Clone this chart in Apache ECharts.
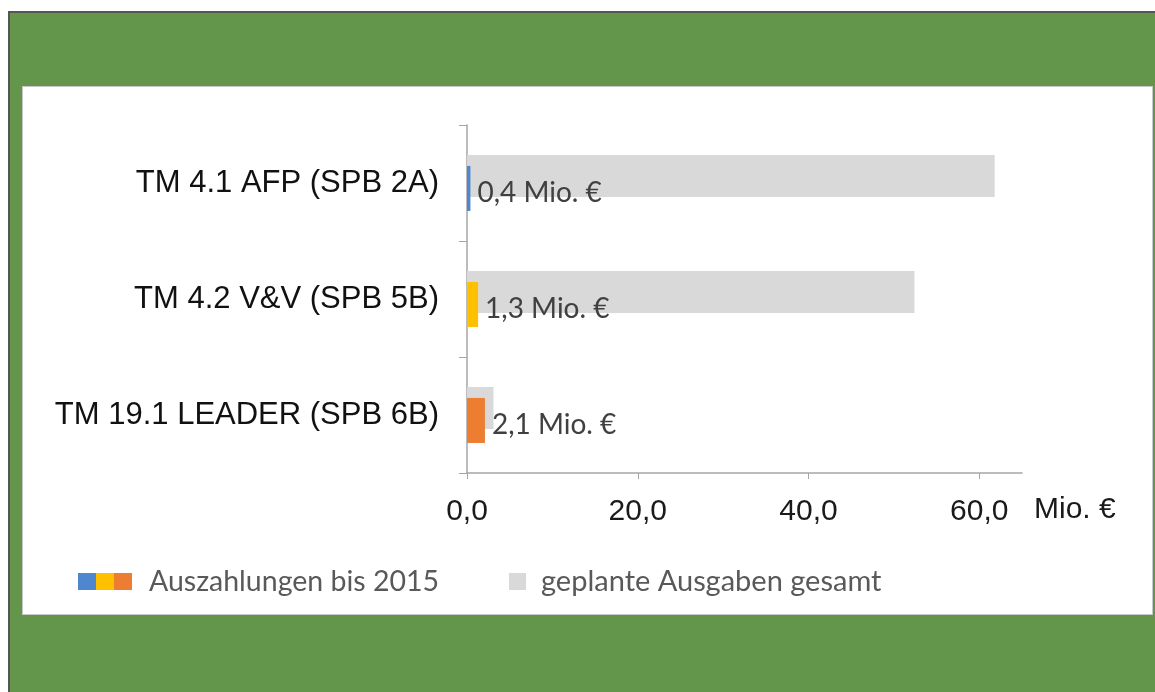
<!DOCTYPE html>
<html>
<head>
<meta charset="utf-8">
<script src="https://cdn.jsdelivr.net/npm/echarts@6/dist/echarts.min.js"></script>
<style>
  html, body { margin: 0; padding: 0; background: #ffffff; }
  #frame {
    position: absolute; left: 8px; top: 11px; width: 1147px; height: 681px;
    background: #63964a; border-top: 2px solid #555; border-left: 2px solid #555;
    box-sizing: border-box;
  }
  #chart {
    position: absolute; left: 22px; top: 86px; width: 1131px; height: 529px;
    background: #ffffff; border: 1px solid #c8c8c8; box-sizing: border-box;
  }
</style>
</head>
<body>
<div id="frame"></div>
<div id="chart"></div>
<script>
// data
const categories = ["TM 4.1 AFP (SPB 2A)", "TM 4.2 V&V (SPB 5B)", "TM 19.1 LEADER (SPB 6B)"];
const paidValues = [0.4, 1.3, 2.1];
const plannedValues = [61.8, 52.4, 3.1];
const paidColors = ["#4f86d0", "#ffc000", "#ed7d31"];
const xTicks = [0, 20, 40, 60];
const paidName = "Auszahlungen bis 2015";
const plannedName = "geplante Ausgaben gesamt";

const legendIcon = "image://data:image/svg+xml;utf8," + encodeURIComponent(
  '<svg xmlns="http://www.w3.org/2000/svg" width="54" height="17">' +
  '<rect x="0" y="0" width="18" height="17" fill="' + paidColors[0] + '"/>' +
  '<rect x="18" y="0" width="18" height="17" fill="' + paidColors[1] + '"/>' +
  '<rect x="36" y="0" width="18" height="17" fill="' + paidColors[2] + '"/>' +
  '</svg>'
);

const chart = echarts.init(document.getElementById("chart"), null, { renderer: "canvas" });

const fmt = (v) => v.toFixed(1).replace(".", ",");

chart.setOption({
  animation: false,
  grid: { left: 444, top: 38, width: 555, height: 348 },
  xAxis: {
    type: "value",
    min: 0,
    max: 65,
    interval: 20,
    name: "Mio. €",
    nameLocation: "end",
    nameGap: 12,
    nameTextStyle: {
      fontFamily: "Liberation Sans", fontSize: 30, color: "#1a1a1a",
      verticalAlign: "top", padding: [22, 0, 0, 0]
    },
    axisLine: { show: true, lineStyle: { color: "#a6a6a6", width: 1.5 } },
    axisTick: { show: true, length: 6, lineStyle: { color: "#a6a6a6" }, customValues: xTicks },
    axisLabel: {
      customValues: xTicks,
      formatter: fmt,
      fontFamily: "Liberation Sans", fontSize: 30, color: "#1a1a1a", margin: 24
    },
    splitLine: { show: false }
  },
  yAxis: {
    type: "category",
    inverse: true,
    data: categories,
    axisLine: { show: true, lineStyle: { color: "#a6a6a6", width: 1.5 } },
    axisTick: { show: true, length: 8, lineStyle: { color: "#a6a6a6" } },
    axisLabel: { fontFamily: "Liberation Sans", fontSize: 31, color: "#111", margin: 28 }
  },
  legend: [
    {
      data: [{ name: paidName, icon: legendIcon }],
      left: 50, top: 475,
      itemWidth: 54, itemHeight: 17,
      textStyle: { fontFamily: "Lato", fontSize: 28.5, color: "#595959", padding: [0, 0, 0, 12] },
      selectedMode: false
    },
    {
      data: [{ name: plannedName, icon: "rect" }],
      left: 481, top: 475,
      itemWidth: 17, itemHeight: 17,
      textStyle: { fontFamily: "Lato", fontSize: 29, color: "#595959", padding: [0, 0, 0, 10] },
      selectedMode: false
    }
  ],
  series: [
    {
      name: plannedName,
      type: "bar",
      data: plannedValues,
      barWidth: 42,
      barGap: "-74%",
      itemStyle: { color: "#d9d9d9" }
    },
    {
      name: paidName,
      type: "bar",
      data: paidValues.map((v, i) => ({ value: v, itemStyle: { color: paidColors[i] } })),
      barWidth: 45,
      barMinWidth: 5,
      itemStyle: { color: paidColors[0] },
      label: {
        show: true,
        position: "right",
        distance: 7,
        offset: [0, 5],
        formatter: (p) => fmt(p.value) + " Mio. €",
        fontFamily: "Lato", fontSize: 28, color: "#404040"
      }
    }
  ]
});
</script>
</body>
</html>
